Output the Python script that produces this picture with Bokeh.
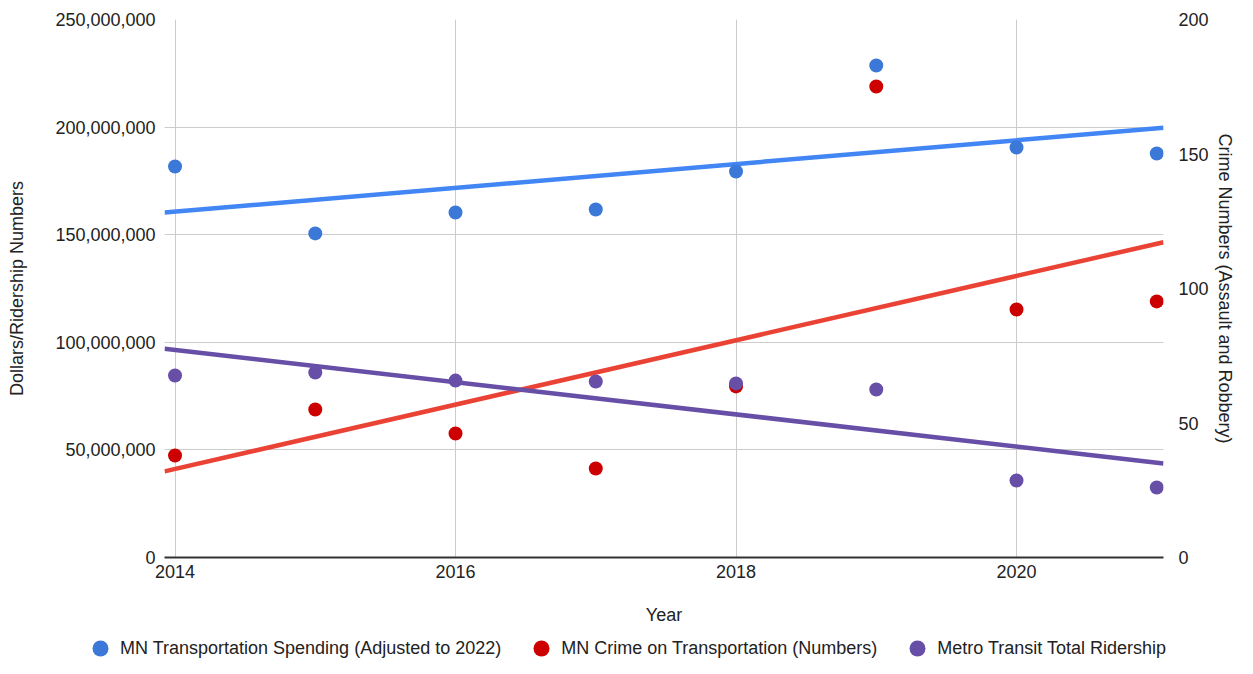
import numpy as np
from bokeh.plotting import figure
from bokeh.layouts import column
from bokeh.models import (Range1d, LinearAxis, FixedTicker, NumeralTickFormatter,
                          Legend, LegendItem, ColumnDataSource)
from bokeh.embed import file_html
from bokeh.resources import INLINE

years = [2014, 2015, 2016, 2017, 2018, 2019, 2020, 2021]
spending = [181.7e6, 150.6e6, 160.3e6, 161.7e6, 179.4e6, 228.6e6, 190.5e6, 187.7e6]
crime = [37.9, 55.0, 46.1, 33.1, 63.6, 175.1, 92.2, 95.2]
ridership = [84.6e6, 86.0e6, 82.2e6, 81.8e6, 80.9e6, 78.1e6, 35.8e6, 32.5e6]

left_ticks = [0, 50e6, 100e6, 150e6, 200e6, 250e6]
right_ticks = [0, 50, 100, 150, 200]
x_ticks = [2014, 2016, 2018, 2020]

labels = ["MN Transportation Spending (Adjusted to 2022)",
          "MN Crime on Transportation (Numbers)",
          "Metro Transit Total Ridership"]
dot_colors = ["#3c78d8", "#cc0000", "#674ea7"]
line_colors = ["#4285f4", "#ea4335", "#674ea7"]
series = [spending, crime, ridership]
ranges = ["default", "crime", "default"]

FONT = "Liberation Sans"
FS = "18px"
TXT = "#222222"

x0, x1 = 2013.925, 2021.048
p = figure(width=1237, height=631, output_backend="svg", toolbar_location=None,
           x_range=Range1d(x0, x1), y_range=Range1d(0, 250e6),
           min_border_left=164, min_border_right=74, min_border_top=19,
           min_border_bottom=74)
p.frame_align = False
p.extra_y_ranges = {"crime": Range1d(0, 200)}
p.outline_line_color = None
p.background_fill_color = "white"

# grids
p.xgrid.ticker = FixedTicker(ticks=x_ticks)
p.ygrid.ticker = FixedTicker(ticks=left_ticks)
p.xgrid.grid_line_color = "#cccccc"
p.ygrid.grid_line_color = "#cccccc"

def style_axis(ax):
    ax.major_tick_line_color = None
    ax.minor_tick_line_color = None
    ax.major_tick_out = 0
    ax.major_tick_in = 0
    ax.minor_tick_out = 0
    ax.minor_tick_in = 0
    ax.major_label_text_font = FONT
    ax.major_label_text_font_size = FS
    ax.major_label_text_color = TXT
    ax.axis_label_text_font = FONT
    ax.axis_label_text_font_size = FS
    ax.axis_label_text_color = TXT
    ax.axis_label_text_font_style = "normal"

# left axis
ly = p.yaxis[0]
style_axis(ly)
ly.ticker = FixedTicker(ticks=left_ticks)
ly.formatter = NumeralTickFormatter(format="0,0")
ly.axis_line_color = None
ly.major_label_standoff = 9
ly.axis_label = "Dollars/Ridership Numbers"
ly.axis_label_standoff = 25

# bottom axis
bx = p.xaxis[0]
style_axis(bx)
bx.ticker = FixedTicker(ticks=x_ticks)
bx.axis_line_color = "#333333"
bx.axis_line_width = 2
bx.major_label_standoff = 7
bx.axis_label = "Year"
bx.axis_label_standoff = 24

# right axis
ry = LinearAxis(y_range_name="crime", ticker=FixedTicker(ticks=right_ticks),
                axis_label="Crime Numbers (Assault and Robbery)")
style_axis(ry)
ry.axis_line_color = None
ry.major_label_standoff = 15
ry.axis_label_standoff = 3
p.add_layout(ry, "right")

# trendlines (least squares from the data)
xs = np.array(years, dtype=float)
xl = np.array([x0, x1])
for vals, col, rng in zip(series, line_colors, ranges):
    m, b = np.polyfit(xs, np.array(vals, dtype=float), 1)
    p.line(xl, m * xl + b, line_color=col, line_width=4.5, y_range_name=rng)

# points
for vals, col, rng in zip(series, dot_colors, ranges):
    src = ColumnDataSource(dict(x=years, y=vals))
    p.scatter("x", "y", source=src, size=14, fill_color=col, line_color=None,
              y_range_name=rng)

# legend strip below the chart (its renderers sit outside its empty view)
lg = figure(width=1237, height=27, output_backend="svg", toolbar_location=None,
            x_range=Range1d(0, 1), y_range=Range1d(0, 1),
            x_axis_location=None, y_axis_location=None,
            min_border_left=0, min_border_right=0, min_border_top=0,
            min_border_bottom=0)
lg.frame_align = False
lg.outline_line_color = None
lg.xgrid.visible = False
lg.ygrid.visible = False
items = []
for l, col, vals in zip(labels, dot_colors, series):
    r = lg.scatter(x=[years[0]], y=[vals[0]], size=14, fill_color=col, line_color=None)
    items.append(LegendItem(label=l, renderers=[r]))
legend = Legend(items=items, orientation="horizontal", location=(80, -10),
                glyph_width=40, glyph_height=40, label_standoff=0, spacing=20,
                padding=0, margin=0, border_line_color=None,
                background_fill_alpha=0,
                label_text_font=FONT, label_text_font_size=FS,
                label_text_color=TXT)
lg.add_layout(legend, "center")

layout = column(p, lg, spacing=0)
open("out.html", "w").write(file_html(layout, INLINE))
